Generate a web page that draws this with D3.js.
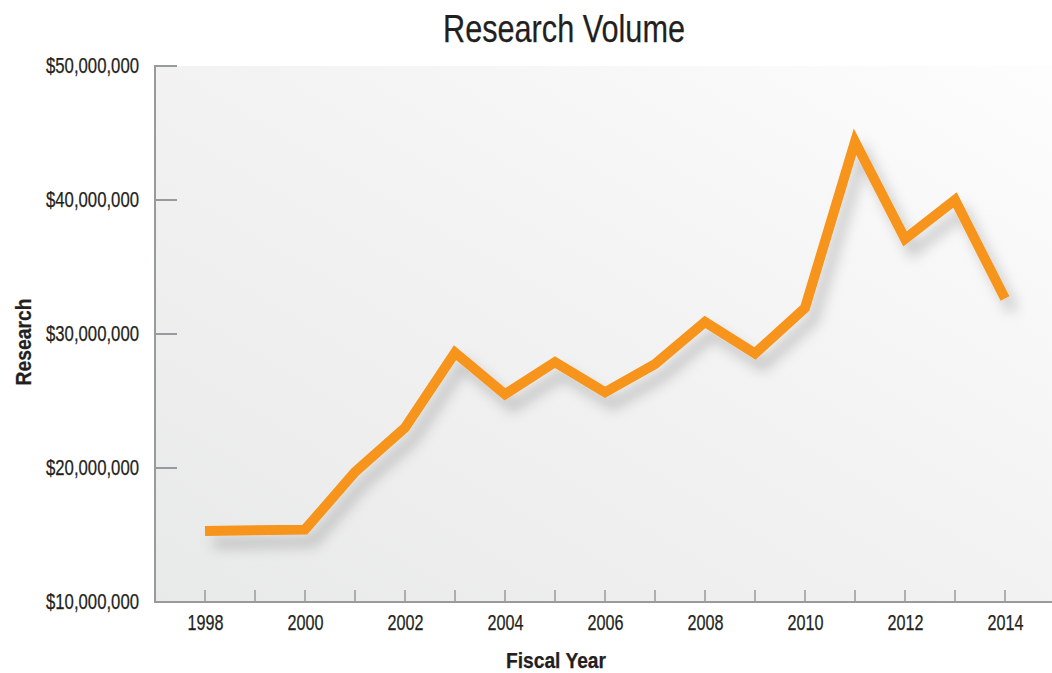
<!DOCTYPE html>
<html><head><meta charset="utf-8">
<script src="https://cdn.jsdelivr.net/npm/d3@7"></script>
<style>
html,body{margin:0;padding:0;background:#fff;}
svg{display:block;}
text{font-family:"Liberation Sans",Arial,Helvetica,sans-serif;fill:#231f20;stroke:#231f20;stroke-width:0.25px;}
</style></head>
<body><svg id="chart" width="1052" height="673"></svg>
<script>
const years = [1998,1999,2000,2001,2002,2003,2004,2005,2006,2007,2008,2009,2010,2011,2012,2013,2014];
const research = [15.30,15.35,15.40,19.70,23.00,28.60,25.50,27.90,25.65,27.75,30.90,28.55,31.95,44.35,37.10,40.00,32.65].map(v=>v*1e6);
const yTicks = [10e6,20e6,30e6,40e6,50e6];
const xLabelYears = [1998,2000,2002,2004,2006,2008,2010,2012,2014];
const titleText = "Research Volume";
const xTitle = "Fiscal Year";
const yTitle = "Research";

const svg = d3.select("#chart");
const mLeft = 155, mRight = 1052, mTop = 66, mBottom = 602;

const x = d3.scaleLinear().domain([1998,2014]).range([205,1005]);
const y = d3.scaleLinear().domain([10e6,50e6]).range([mBottom, mTop]);

// condensed look: squeeze glyphs horizontally to a target width
function fitWidth(sel, w) {
  sel.attr("textLength", w).attr("lengthAdjust", "spacingAndGlyphs");
}

const defs = svg.append("defs");
const grad = defs.append("linearGradient").attr("id","bg").attr("x1",0).attr("y1",1).attr("x2",1).attr("y2",0);
grad.append("stop").attr("offset","0%").attr("stop-color","#e8e9e9");
grad.append("stop").attr("offset","55%").attr("stop-color","#f3f3f3");
grad.append("stop").attr("offset","100%").attr("stop-color","#fdfdfd");
const f = defs.append("filter").attr("id","shadow").attr("x","-10%").attr("y","-10%").attr("width","130%").attr("height","140%");
f.append("feDropShadow").attr("dx",8).attr("dy",12).attr("stdDeviation",6.5).attr("flood-color","#000").attr("flood-opacity",0.2);

svg.append("rect").attr("x",mLeft).attr("y",mTop).attr("width",mRight-mLeft).attr("height",mBottom-mTop).attr("fill","url(#bg)");

// Y axis
const yAxis = d3.axisLeft(y).tickValues(yTicks).tickSize(0).tickPadding(16)
  .tickFormat(d => "$" + d3.format(",")(d));
const gy = svg.append("g").attr("transform",`translate(${mLeft},0)`).call(yAxis);
gy.attr("font-family",null).attr("font-size",null);
gy.select(".domain").remove();
gy.selectAll("text").style("font-size","22px").attr("dy","0.3em");
fitWidth(gy.selectAll("text"), 93);
svg.append("g").selectAll("line").data(yTicks).join("line")
  .attr("x1",mLeft).attr("x2",mLeft+22).attr("y1",d=>y(d)).attr("y2",d=>y(d))
  .attr("stroke","#999a9c").attr("stroke-width",2);
svg.append("line").attr("x1",mLeft).attr("x2",mLeft).attr("y1",mTop-1).attr("y2",mBottom+1)
  .attr("stroke","#999a9c").attr("stroke-width",2);

// X axis
const xAxis = d3.axisBottom(x).tickValues(xLabelYears).tickSize(0).tickPadding(12).tickFormat(d3.format("d"));
const gx = svg.append("g").attr("transform",`translate(0,${mBottom})`).call(xAxis);
gx.attr("font-family",null).attr("font-size",null);
gx.select(".domain").remove();
gx.selectAll("text").style("font-size","22px");
fitWidth(gx.selectAll("text"), 36);
svg.append("g").selectAll("line").data(years).join("line")
  .attr("x1",d=>x(d)).attr("x2",d=>x(d)).attr("y1",mBottom-12).attr("y2",mBottom)
  .attr("stroke","#999a9c").attr("stroke-width",1.5);
svg.append("line").attr("x1",mLeft-1).attr("x2",mRight).attr("y1",mBottom).attr("y2",mBottom)
  .attr("stroke","#999a9c").attr("stroke-width",2);

// Line
const line = d3.line().x((d,i)=>x(years[i])).y(d=>y(d));
svg.append("path").datum(research).attr("d",line)
  .attr("fill","none").attr("stroke","#f7941d").attr("stroke-width",10)
  .attr("stroke-linejoin","miter").attr("stroke-miterlimit",10).attr("stroke-linecap","butt")
  .attr("filter","url(#shadow)");

// Titles
const t1 = svg.append("text").attr("x",564).attr("y",42).attr("text-anchor","middle")
  .style("font-size","39px").text(titleText);
fitWidth(t1, 242);
const t2 = svg.append("text").attr("x",556).attr("y",668).attr("text-anchor","middle")
  .style("font-size","22px").style("font-weight","bold").text(xTitle);
fitWidth(t2, 100);
const t3 = svg.append("text").attr("transform","translate(31,342) rotate(-90)").attr("text-anchor","middle")
  .style("font-size","22px").style("font-weight","bold").text(yTitle);
fitWidth(t3, 87);
</script></body></html>
